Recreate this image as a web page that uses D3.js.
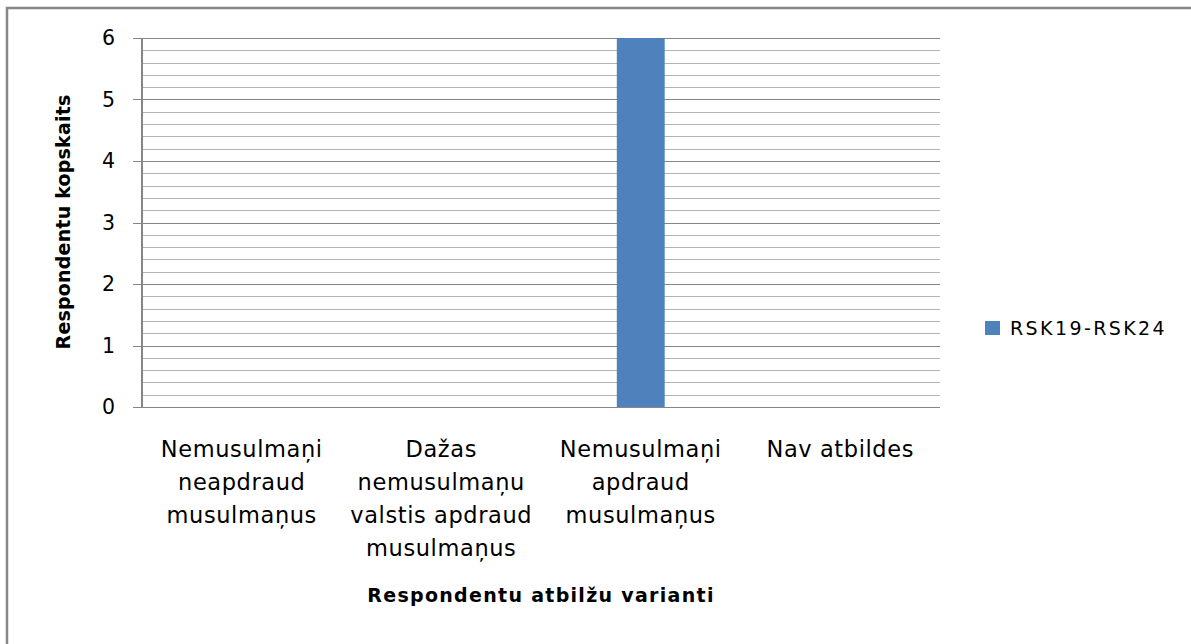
<!DOCTYPE html>
<html><head><meta charset="utf-8">
<script src="https://cdn.jsdelivr.net/npm/d3@7"></script>
<style>
html,body{margin:0;padding:0;background:#fff;overflow:hidden;}
text{font-family:"DejaVu Sans",sans-serif;fill:#000;}
</style></head>
<body>
<svg id="chart" width="1191" height="644"></svg>
<script>
const categories = [
  ["Nemusulmaņi","neapdraud","musulmaņus"],
  ["Dažas","nemusulmaņu","valstis apdraud","musulmaņus"],
  ["Nemusulmaņi","apdraud","musulmaņus"],
  ["Nav atbildes"]
];
const seriesName = "RSK19-RSK24";
const values = [0, 0, 6, 0];
const yTicks = [0, 1, 2, 3, 4, 5, 6];
const yTitle = "Respondentu kopskaits";
const xTitle = "Respondentu atbilžu varianti";

const svg = d3.select("#chart");
const L = 142, R = 940, T = 38, B = 407;

// outer border
svg.append("rect").attr("x",7).attr("y",8).attr("width",1300).attr("height",800)
  .attr("fill","none").attr("stroke","#878787").attr("stroke-width",2.5);

const x = d3.scaleBand().domain(d3.range(categories.length)).range([L, R]).padding(0);
const y = d3.scaleLinear().domain([0, 6]).range([B, T]);

// minor gridlines
const minor = d3.range(0, 6.0001, 0.2).filter(v => Math.abs(v - Math.round(v)) > 1e-6);
svg.append("g").selectAll("line").data(minor).join("line")
  .attr("x1", L).attr("x2", R)
  .attr("y1", d => Math.round(y(d)) + 0.5).attr("y2", d => Math.round(y(d)) + 0.5)
  .attr("stroke", "#b4b4b4").attr("stroke-width", 1);

// major gridlines + ticks
svg.append("g").selectAll("line").data(yTicks).join("line")
  .attr("x1", 133).attr("x2", R)
  .attr("y1", d => Math.round(y(d)) + 0.5).attr("y2", d => Math.round(y(d)) + 0.5)
  .attr("stroke", "#868686").attr("stroke-width", 1);

// bars
const bw = x.bandwidth() * 0.24;
svg.append("g").selectAll("rect").data(values).join("rect")
  .attr("x", (d, i) => x(i) + x.bandwidth() / 2 - bw / 2)
  .attr("width", bw)
  .attr("y", d => y(d))
  .attr("height", d => y(0) - y(d))
  .attr("fill", "#4f81bd");

// y axis line
svg.append("line").attr("x1", L).attr("x2", L).attr("y1", T).attr("y2", B + 1)
  .attr("stroke", "#868686").attr("stroke-width", 2);

// y tick labels
svg.append("g").selectAll("text").data(yTicks).join("text")
  .attr("x", 115).attr("y", d => y(d)).attr("dy", "0.36em")
  .attr("text-anchor", "end").style("font-size", "20.5px")
  .text(d => d);

// category labels
const cat = svg.append("g").selectAll("text").data(categories).join("text")
  .attr("text-anchor", "middle").style("font-size", "22.5px").style("letter-spacing", "0.6px");
cat.selectAll("tspan").data((d, i) => d.map(s => ({s, i}))).join("tspan")
  .attr("x", d => x(d.i) + x.bandwidth() / 2)
  .attr("y", (d, j) => 457 + j * 33)
  .text(d => d.s);

// axis titles
svg.append("text").attr("x", (L + R) / 2).attr("y", 602).attr("text-anchor", "middle")
  .style("font-size", "19px").style("font-weight", "bold").style("letter-spacing", "1.3px")
  .text(xTitle);
svg.append("text").attr("transform", "translate(70,222) rotate(-90)").attr("text-anchor", "middle")
  .style("font-size", "19px").style("font-weight", "bold").style("letter-spacing", "0.2px")
  .text(yTitle);

// legend
svg.append("rect").attr("x", 985).attr("y", 321).attr("width", 15).attr("height", 14).attr("fill", "#4f81bd");
svg.append("text").attr("x", 1010).attr("y", 335).style("font-size", "19px").style("letter-spacing", "2.4px")
  .text(seriesName);
</script>
</body></html>
